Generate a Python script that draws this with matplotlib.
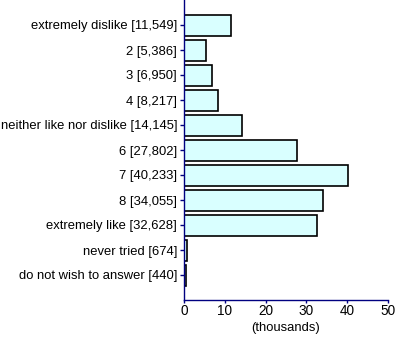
import matplotlib
matplotlib.use("Agg")
import matplotlib.pyplot as plt

categories = ["extremely dislike", "2", "3", "4", "neither like nor dislike",
              "6", "7", "8", "extremely like", "never tried", "do not wish to answer"]
counts = [11549, 5386, 6950, 8217, 14145, 27802, 40233, 34055, 32628, 674, 440]

labels = [f"{c} [{v:,}]" for c, v in zip(categories, counts)]
values_k = [v / 1000 for v in counts]

plt.rcParams["font.family"] = ["Liberation Sans", "DejaVu Sans"]
navy = "#000080"
fs = 9.4

fig = plt.figure(figsize=(4.0, 3.42), dpi=100)
ax = fig.add_axes([184 / 400, 1 - 300 / 342, 204 / 400, 300 / 342])

ypos = list(range(len(categories)))
ax.barh(ypos, values_k, height=0.84, color="#D9FFFF", edgecolor="black", linewidth=1.2)

ax.set_ylim(11, -1)
ax.set_xlim(0, 50)
ax.set_yticks(ypos)
ax.set_yticklabels(labels, fontsize=fs)
ax.set_xticks([0, 10, 20, 30, 40, 50])
ax.tick_params(axis="x", labelsize=fs + 0.4, colors=navy, labelcolor="black", length=2, width=1, pad=1)
ax.tick_params(axis="y", colors=navy, labelcolor="black", length=3, width=1, pad=2)
ax.set_xlabel("(thousands)", fontsize=fs, labelpad=3)

for s in ["top", "right"]:
    ax.spines[s].set_visible(False)
for s in ["left", "bottom"]:
    ax.spines[s].set_color(navy)
    ax.spines[s].set_linewidth(1)

fig.savefig("out.png", dpi=100)
